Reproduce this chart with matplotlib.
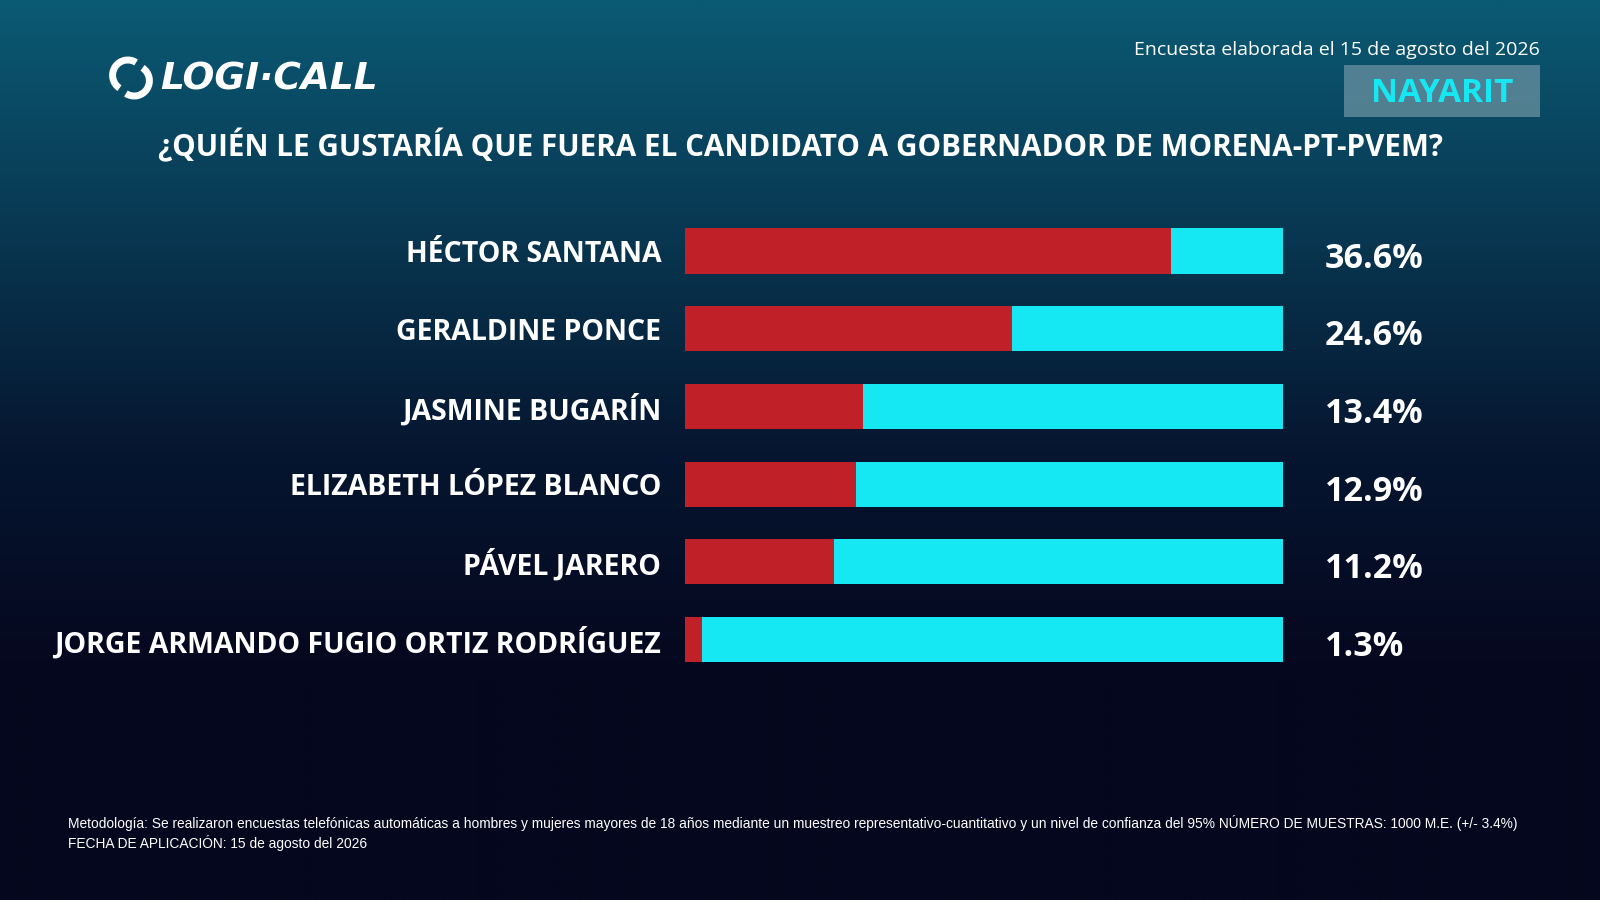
import numpy as np
import matplotlib
matplotlib.use("Agg")
import matplotlib.pyplot as plt
from matplotlib.patches import Rectangle, Arc

# datos de la encuesta
candidatos = ["HÉCTOR SANTANA", "GERALDINE PONCE", "JASMINE BUGARÍN",
              "ELIZABETH LÓPEZ BLANCO", "PÁVEL JARERO",
              "JORGE ARMANDO FUGIO ORTIZ RODRÍGUEZ"]
porcentajes = [36.6, 24.6, 13.4, 12.9, 11.2, 1.3]
escala_max = 45

titulo = "¿QUIÉN LE GUSTARÍA QUE FUERA EL CANDIDATO A GOBERNADOR DE MORENA-PT-PVEM?"
fecha = "Encuesta elaborada el 15 de agosto del 2026"
estado = "NAYARIT"
nota = ("Metodología: Se realizaron encuestas telefónicas automáticas a hombres y mujeres mayores de 18 años "
        "mediante un muestreo representativo-cuantitativo y un nivel de confianza del 95% NÚMERO DE MUESTRAS: "
        "1000 M.E. (+/- 3.4%)\nFECHA DE APLICACIÓN: 15 de agosto del 2026")

ROJO = "#c02027"
CIAN = "#16e8f3"
FUENTE = "Open Sans"

fig = plt.figure(figsize=(16, 9), dpi=100)

# fondo degradado
bg = fig.add_axes([0, 0, 1, 1])
bg.set_axis_off()
t = np.linspace(0, 1, 300)[:, None]
top = np.array([0x0b, 0x5a, 0x74]) / 255
mid = np.array([0x06, 0x16, 0x30]) / 255
bot = np.array([0x05, 0x07, 0x1e]) / 255
w = np.clip(t / 0.5, 0, 1)
col = top * (1 - w) + mid * w
w2 = np.clip((t - 0.5) / 0.25, 0, 1)
col = col * (1 - w2) + bot * w2
img = np.repeat(col[:, None, :], 2, axis=1)
bg.imshow(img, aspect="auto", extent=[0, 1, 0, 1], origin="upper")
bg.set_xlim(0, 1)
bg.set_ylim(0, 1)

# barras
ax = fig.add_axes([0.428, 0.2463, 0.374, 0.518])
ax.set_facecolor("none")
y = np.arange(len(candidatos))
ax.barh(y, [escala_max] * len(y), height=0.58, color=CIAN, edgecolor="none")
ax.barh(y, porcentajes, height=0.58, color=ROJO, edgecolor="none")
ax.set_xlim(0, escala_max)
ax.set_ylim(len(y) - 0.5, -0.5)
ax.set_yticks(y)
ax.set_yticklabels(candidatos, fontsize=20.5, fontweight="bold", color="white", family=FUENTE)
ax.tick_params(axis="y", length=0, pad=17)
ax.set_xticks([])
for s in ax.spines.values():
    s.set_visible(False)
for i, v in enumerate(porcentajes):
    ax.annotate(f"{v}%", (escala_max, i), xytext=(30, -5.5), textcoords="offset points",
                ha="left", va="center", fontsize=24.5, fontweight="bold", color="white", family=FUENTE)

# textos de cabecera
fig.text(0.5, 1 - 146 / 900, titulo, ha="center", va="center", fontsize=21.3,
         fontweight="bold", color="white", family=FUENTE)
fig.text(1540 / 1600, 1 - 50 / 900, fecha, ha="right", va="center", fontsize=14,
         color="white", family=FUENTE)
bg.add_patch(Rectangle((1344 / 1600, 1 - 117 / 900), 196 / 1600, 52 / 900,
                       facecolor="#588696", edgecolor="none", alpha=0.9))
fig.text(1442 / 1600, 1 - 94 / 900, estado, ha="center", va="center", fontsize=24,
         fontweight="bold", color=CIAN, family=FUENTE)

# logo
fig.text(160 / 1600, 1 - 79 / 900, "LOGI·CALL", ha="left", va="center", fontsize=27,
         fontweight="heavy", fontstyle="italic", color="white", family="DejaVu Sans")
cx, cy = 131 / 1600, 1 - 78 / 900
bg.add_patch(Arc((cx - 0.002, cy + 0.003), 0.019, 0.034, theta1=70, theta2=250,
                 color="white", lw=5))
bg.add_patch(Arc((cx + 0.002, cy - 0.003), 0.019, 0.034, theta1=250, theta2=430,
                 color="white", lw=5))

# nota metodológica
fig.text(68 / 1600, 1 - 833 / 900, nota, ha="left", va="center", fontsize=9.9,
         color="white", family="Liberation Sans", linespacing=1.3)

fig.savefig("out.png", dpi=100)
